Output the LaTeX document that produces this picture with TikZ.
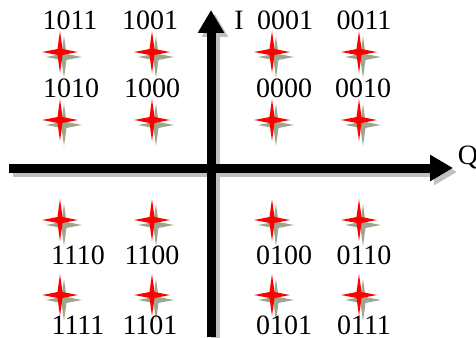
\documentclass[tikz,border=0pt]{standalone}
\usepackage{fontspec}
\setmainfont{Liberation Serif}
\usepackage{xcolor}
\usetikzlibrary{arrows.meta, shapes.geometric, shadows}

\definecolor{starshadow}{RGB}{158,166,144}
\definecolor{axisshadow}{RGB}{192,192,192}

\begin{document}
\begin{tikzpicture}[
    x=1pt, y=-1pt,
    font=\fontsize{28}{30}\selectfont,
    code/.style={
        inner sep=0pt,
        anchor=center
    },
    point/.style={
        star,
        star points=4,
        star point ratio=5,
        minimum size=42pt,
        inner sep=0pt,
        fill=red,
        xscale=0.85,
        drop shadow={shadow xshift=4pt, shadow yshift=-5pt, fill=starshadow, opacity=1}
    },
    axis/.style={line width=9pt, -{Triangle[length=23pt, width=25pt]}}
]
\useasboundingbox (0,0) rectangle (476,337);

% Axes
\coordinate (ibot) at (211,337);
\coordinate (itop) at (211,10);
\coordinate (qleft) at (9,168);
\coordinate (qright) at (453,168);

\draw[axis, axisshadow] ([xshift=4pt, yshift=-4pt]qleft) -- ([xshift=4pt, yshift=-4pt]qright);
\draw[axis, axisshadow] ([xshift=4pt, yshift=-4pt]ibot) -- ([xshift=4pt, yshift=-4pt]itop);
\draw[axis] (qleft) -- (qright);
\draw[axis] (ibot) -- (itop);

\node[code] (ilabel) at (239,20) {I};
\node[code] (qlabel) at (468,157) {Q};

% Constellation points
\node[point] (p1011) at (60,52) {};
\node[point] (p1001) at (152,52) {};
\node[point] (p0001) at (272,52) {};
\node[point] (p0011) at (359,52) {};

\node[point] (p1010) at (60,120) {};
\node[point] (p1000) at (152,120) {};
\node[point] (p0000) at (272,120) {};
\node[point] (p0010) at (359,120) {};

\node[point] (p1110) at (60,220) {};
\node[point] (p1100) at (152,220) {};
\node[point] (p0100) at (272,220) {};
\node[point] (p0110) at (359,220) {};

\node[point] (p1111) at (60,295) {};
\node[point] (p1101) at (152,295) {};
\node[point] (p0101) at (272,295) {};
\node[point] (p0111) at (359,295) {};

% Codes
\node[code] (c1011) at (70,20) {1011};
\node[code] (c1001) at (150,20) {1001};
\node[code] (c0001) at (285,20) {0001};
\node[code] (c0011) at (364,20) {0011};

\node[code] (c1010) at (71,88) {1010};
\node[code] (c1000) at (152,88) {1000};
\node[code] (c0000) at (284,88) {0000};
\node[code] (c0010) at (363,88) {0010};

\node[code] (c1110) at (78,255) {1110};
\node[code] (c1100) at (152,255) {1100};
\node[code] (c0100) at (284,255) {0100};
\node[code] (c0110) at (364,255) {0110};

\node[code] (c1111) at (78,325) {1111};
\node[code] (c1101) at (150,325) {1101};
\node[code] (c0101) at (284,325) {0101};
\node[code] (c0111) at (364,325) {0111};

\end{tikzpicture}
\end{document}
